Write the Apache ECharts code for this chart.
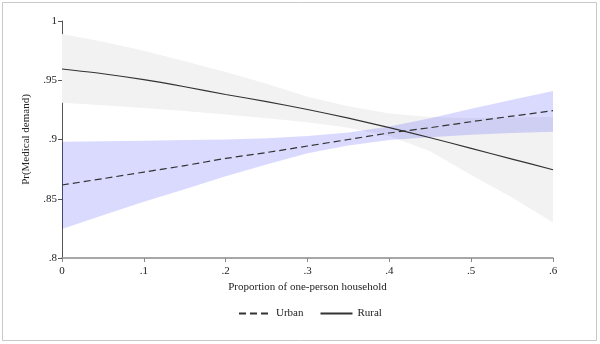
<!DOCTYPE html>
<html>
<head>
<meta charset="utf-8">
<script src="https://cdn.jsdelivr.net/npm/echarts@6/dist/echarts.min.js"></script>
<style>
html,body{margin:0;padding:0;background:#fff;}
#c{width:600px;height:344px;}
</style>
</head>
<body>
<div id="c"></div>
<script>
// Proportion of one-person household
const xs = [0, 0.05, 0.1, 0.15, 0.2, 0.25, 0.3, 0.35, 0.4, 0.45, 0.5, 0.55, 0.6];
const ruralMean  = [0.9595, 0.9555, 0.9505, 0.9445, 0.938, 0.932, 0.9253, 0.918, 0.910, 0.9015, 0.8925, 0.8835, 0.8745];
const ruralUpper = [0.989, 0.9825, 0.975, 0.966, 0.957, 0.947, 0.936, 0.928, 0.922, 0.919, 0.918, 0.9185, 0.919];
const ruralLower = [0.931, 0.929, 0.9265, 0.924, 0.921, 0.918, 0.9145, 0.910, 0.903, 0.890, 0.870, 0.851, 0.830];
const urbanMean  = [0.8616, 0.867, 0.8725, 0.878, 0.884, 0.889, 0.8945, 0.900, 0.9055, 0.910, 0.915, 0.9197, 0.9243];
const urbanUpper = [0.898, 0.8985, 0.899, 0.8995, 0.900, 0.901, 0.903, 0.906, 0.911, 0.918, 0.926, 0.9335, 0.941];
const urbanLower = [0.8245, 0.836, 0.8475, 0.858, 0.869, 0.879, 0.8885, 0.895, 0.8995, 0.902, 0.904, 0.9055, 0.9066];
const yTicks = [0.8, 0.85, 0.9, 0.95, 1];
const xTicks = [0, 0.1, 0.2, 0.3, 0.4, 0.5, 0.6];

const pairs = (a) => xs.map((x, i) => [x, a[i]]);
const fmt = (v) => String(+(+v).toFixed(2)).replace(/^0\./, '.');
const font = 'Liberation Serif';
const txt = '#222';

function bandSeries(upper, lower, color) {
  return {
    type: 'custom', silent: true,
    data: [0],
    renderItem: function (params, api) {
      const pts = [];
      for (let i = 0; i < xs.length; i++) pts.push(api.coord([xs[i], upper[i]]));
      for (let i = xs.length - 1; i >= 0; i--) pts.push(api.coord([xs[i], lower[i]]));
      return {type: 'polygon', shape: {points: pts}, style: {fill: color, stroke: 'none'}};
    }
  };
}

const chart = echarts.init(document.getElementById('c'), null, {renderer: 'canvas'});
chart.setOption({
  animation: false,
  backgroundColor: '#fff',
  textStyle: {fontFamily: font},
  graphic: [{
    type: 'rect', shape: {x: 2.5, y: 2.5, width: 594, height: 338},
    style: {fill: 'none', stroke: '#c8c8c8', lineWidth: 1}, silent: true, z: 100
  }],
  grid: {left: 62, right: 47, top: 21, bottom: 86},
  legend: {
    data: ['Urban', 'Rural'],
    left: 233, top: 303,
    itemWidth: 32, itemHeight: 12, itemGap: 16,
    itemStyle: {opacity: 0},
    textStyle: {fontFamily: font, fontSize: 11, color: txt}
  },
  xAxis: {
    type: 'value', min: 0, max: 0.6, interval: 0.1,
    name: 'Proportion of one-person household',
    nameLocation: 'middle', nameGap: 23,
    nameTextStyle: {fontFamily: font, fontSize: 11, color: txt},
    axisLine: {show: true, lineStyle: {color: '#8a8a8a', width: 1.5}},
    axisTick: {show: true, length: 4, lineStyle: {color: '#8a8a8a'}},
    axisLabel: {margin: 8, fontFamily: font, fontSize: 11, color: txt,
      formatter: (v) => xTicks.some(t => Math.abs(t - v) < 1e-9) ? fmt(v) : ''},
    splitLine: {show: false}
  },
  yAxis: {
    type: 'value', min: 0.8, max: 1, interval: 0.05,
    name: 'Pr(Medical demand)',
    nameLocation: 'middle', nameGap: 30, nameRotate: 90,
    nameTextStyle: {fontFamily: font, fontSize: 11, color: txt},
    axisLine: {show: true, lineStyle: {color: '#555', width: 1}},
    axisTick: {show: true, length: 4, lineStyle: {color: '#555'}},
    axisLabel: {margin: 5, fontFamily: font, fontSize: 11, color: txt,
      formatter: (v) => yTicks.some(t => Math.abs(t - v) < 1e-9) ? fmt(v) : ''},
    splitLine: {show: false}
  },
  series: [
    bandSeries(ruralUpper, ruralLower, '#f2f2f2'),
    bandSeries(urbanUpper, urbanLower, 'rgba(0,0,255,0.145)'),
    {name: 'Urban', type: 'line', data: pairs(urbanMean), smooth: 0.3, symbol: 'none',
      lineStyle: {color: '#333', width: 1.2, type: [7, 4]}, itemStyle: {color: '#333'}},
    {name: 'Rural', type: 'line', data: pairs(ruralMean), smooth: 0.3, symbol: 'none',
      lineStyle: {color: '#333', width: 1.2, type: 'solid'}, itemStyle: {color: '#333'}}
  ]
});
</script>
</body>
</html>
